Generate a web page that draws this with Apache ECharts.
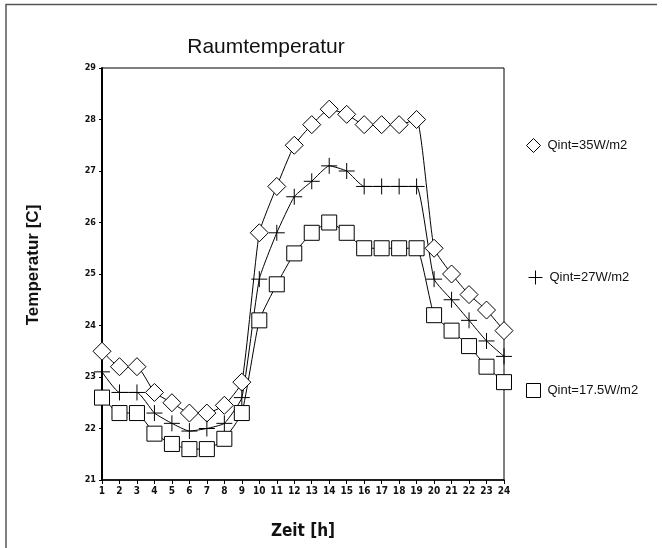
<!DOCTYPE html>
<html>
<head>
<meta charset="utf-8">
<script src="https://cdn.jsdelivr.net/npm/echarts@6/dist/echarts.min.js"></script>
<style>
html,body{margin:0;padding:0;background:#fff}
#chart{width:662px;height:548px}
</style>
</head>
<body>
<div id="chart"></div>
<script>
var hours = ['1','2','3','4','5','6','7','8','9','10','11','12','13','14','15','16','17','18','19','20','21','22','23','24']
var yTicks = [21, 29, 1]
var names = ['Qint=35W/m2', 'Qint=27W/m2', 'Qint=17.5W/m2']
var q35 = [23.5, 23.2, 23.2, 22.7, 22.5, 22.3, 22.3, 22.45, 22.9, 25.8, 26.7, 27.5, 27.9, 28.2, 28.1, 27.9, 27.9, 27.9, 28.0, 25.5, 25.0, 24.6, 24.3, 23.9]
var q27 = [23.1, 22.7, 22.7, 22.3, 22.1, 21.95, 22.0, 22.1, 22.6, 24.9, 25.8, 26.5, 26.8, 27.1, 27.0, 26.7, 26.7, 26.7, 26.7, 24.9, 24.5, 24.1, 23.7, 23.4]
var q17 = [22.6, 22.3, 22.3, 21.9, 21.7, 21.6, 21.6, 21.8, 22.3, 24.1, 24.8, 25.4, 25.8, 26.0, 25.8, 25.5, 25.5, 25.5, 25.5, 24.2, 23.9, 23.6, 23.2, 22.9]

var crossPath = 'path://M0,10 L20,10 M10,0 L10,20'
var narrow = '"DejaVu Sans Condensed", "Liberation Sans", sans-serif'

var myChart = echarts.init(document.getElementById('chart'))

function mk(name, data, symbol, size) {
	return {
		name: name,
		type: 'line',
		data: data,
		smooth: 0.15,
		symbol: symbol,
		symbolSize: size,
		showAllSymbol: true,
		itemStyle: {
			color: symbol == crossPath ? 'none' : '#fff',
			borderColor: '#000',
			borderWidth: 1
		},
		lineStyle: {color: '#000', width: 1},
		emphasis: {disabled: true},
		z: 3
	}
}

function leg(name, icon, size, top) {
	return {
		data: [{name: name, icon: icon}],
		left: 521,
		top: top,
		itemWidth: size,
		itemHeight: size,
		itemGap: 6,
		itemStyle: {color: icon == crossPath ? 'none' : '#fff', borderColor: '#000', borderWidth: 1},
		textStyle: {fontFamily: 'Liberation Sans', fontSize: 13, color: '#111', padding: [0, 0, 0, 2]},
		selectedMode: false
	}
}

var option = {
	backgroundColor: '#fff',
	animation: false,
	title: {
		text: 'Raumtemperatur',
		left: 261,
		textAlign: 'center',
		top: 32,
		textStyle: {fontFamily: 'Liberation Sans', fontSize: 21, fontWeight: 'normal', color: '#111'}
	},
	legend: [
		leg(names[0], 'diamond', 14, 133),
		leg(names[1], crossPath, 14, 263),
		leg(names[2], 'rect', 14, 378)
	],
	grid: {left: 102, right: 158, top: 68, bottom: 68, show: true, borderColor: '#000', borderWidth: 1},
	xAxis: {
		type: 'category',
		data: hours,
		boundaryGap: false,
		name: 'Zeit [h]',
		nameLocation: 'middle',
		nameGap: 43,
		nameTextStyle: {fontFamily: narrow, fontWeight: 'bold', fontSize: 17, color: '#111'},
		axisLine: {lineStyle: {color: '#000', width: 1.5}},
		axisTick: {alignWithLabel: true, length: 4, lineStyle: {color: '#000'}},
		axisLabel: {interval: 0, fontFamily: narrow, fontWeight: 'bold', fontSize: 10, color: '#111', margin: 6},
		splitLine: {show: false}
	},
	yAxis: {
		type: 'value',
		min: yTicks[0],
		max: yTicks[1],
		interval: yTicks[2],
		name: 'Temperatur [C]',
		nameLocation: 'middle',
		nameGap: 60,
		nameTextStyle: {fontFamily: 'Liberation Sans', fontWeight: 'bold', fontSize: 17, color: '#111', padding: [0, 0, 0, 18]},
		axisLine: {show: true, lineStyle: {color: '#000', width: 2}},
		axisTick: {show: true, length: 3, lineStyle: {color: '#000'}},
		axisLabel: {fontFamily: narrow, fontWeight: 'bold', fontSize: 9, color: '#111', margin: 6},
		splitLine: {show: false}
	},
	graphic: [
		{type: 'polyline', shape: {points: [[6, 548], [6, 4.5], [657, 4.5]]}, style: {stroke: '#555', lineWidth: 1.5, fill: null}, silent: true}
	],
	series: [
		mk(names[0], q35, 'diamond', 18),
		mk(names[1], q27, crossPath, 16),
		mk(names[2], q17, 'rect', 15)
	]
}
myChart.setOption(option)
</script>
</body>
</html>
